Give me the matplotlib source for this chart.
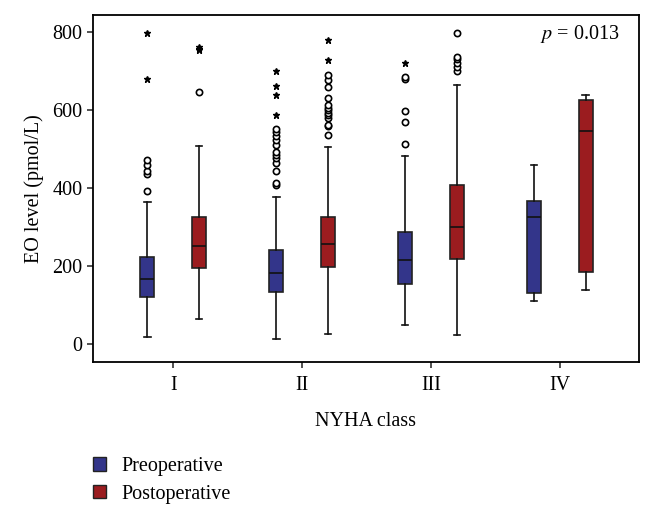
import matplotlib
matplotlib.use("Agg")
import matplotlib.pyplot as plt
from matplotlib.patches import Patch

plt.rcParams['font.family'] = ['Liberation Serif', 'DejaVu Serif']
plt.rcParams['mathtext.fontset'] = 'stix'

classes = ["I", "II", "III", "IV"]
series = ["Preoperative", "Postoperative"]
colors = ["#33358a", "#9b1c1f"]

# box summary per class: (whislo, q1, med, q3, whishi)
pre_box = [(18, 120, 166, 223, 363),
           (13, 132, 183, 240, 378),
           (47, 153, 215, 287, 483),
           (110, 130, 326, 367, 459)]
post_box = [(63, 194, 251, 326, 508),
            (25, 197, 257, 326, 505),
            (23, 219, 300, 408, 666),
            (138, 184, 547, 627, 640)]

# outliers (circles) and extremes (stars)
pre_out = [[393, 437, 445, 459, 473],
           [408, 412, 444, 465, 478, 486, 493, 512, 523, 534, 544, 553],
           [513, 570, 598, 681, 685],
           []]
pre_ext = [[681, 798], [589, 640, 662, 701], [721], []]
post_out = [[648],
            [536, 559, 563, 580, 587, 594, 600, 606, 613, 632, 660, 677, 691],
            [700, 711, 721, 732, 737, 798],
            []]
post_ext = [[754, 758, 762], [730, 781], [], []]

fig = plt.figure(figsize=(6.54, 5.15), dpi=100)
ax = fig.add_axes([0.142, 0.297, 0.835, 0.674])

offset = 0.2
width = 0.11
for k, (boxes, outs, exts, col) in enumerate([(pre_box, pre_out, pre_ext, colors[0]),
                                             (post_box, post_out, post_ext, colors[1])]):
    stats = []
    for b, o in zip(boxes, outs):
        stats.append(dict(whislo=b[0], q1=b[1], med=b[2], q3=b[3], whishi=b[4], fliers=o))
    pos = [i + 1 + (2 * k - 1) * offset for i in range(len(classes))]
    ax.bxp(stats, positions=pos, widths=width, patch_artist=True, capwidths=0.05,
           boxprops=dict(facecolor=col, edgecolor='#222222', linewidth=1.2),
           medianprops=dict(color='#111111', linewidth=1.2),
           whiskerprops=dict(color='#111111', linewidth=1.2),
           capprops=dict(color='#111111', linewidth=1.2),
           flierprops=dict(marker='o', markerfacecolor='white', markeredgecolor='black',
                           markersize=4.5, markeredgewidth=1.2))
    for p, e in zip(pos, exts):
        ax.plot([p] * len(e), e, linestyle='none', marker='*', color='black', markersize=5)

ax.set_xlim(0.377, 4.613)
ax.set_ylim(-47, 845)
ax.set_xticks(range(1, len(classes) + 1))
ax.set_xticklabels(classes)
ax.set_yticks([0, 200, 400, 600, 800])
ax.tick_params(axis='both', labelsize=14.5, length=4, width=1.2, color='#333333')
ax.tick_params(axis='x', pad=6)
for s in ax.spines.values():
    s.set_linewidth(1.3)
ax.set_xlabel("NYHA class", fontsize=14.5, labelpad=12)
ax.set_ylabel("EO level (pmol/L)", fontsize=14.5, labelpad=6)
ax.text(0.965, 0.945, "$p$ = 0.013", transform=ax.transAxes, ha='right', va='center', fontsize=14.5)

handles = [Patch(facecolor=c, edgecolor='#222222', linewidth=1.0) for c in colors]
fig.legend(handles, series, loc='upper left', bbox_to_anchor=(0.13, 0.128), frameon=False,
           fontsize=14.5, handlelength=0.65, handleheight=0.65, handletextpad=0.75, labelspacing=0.42,
           borderaxespad=0)

fig.savefig("out.png", dpi=100)
